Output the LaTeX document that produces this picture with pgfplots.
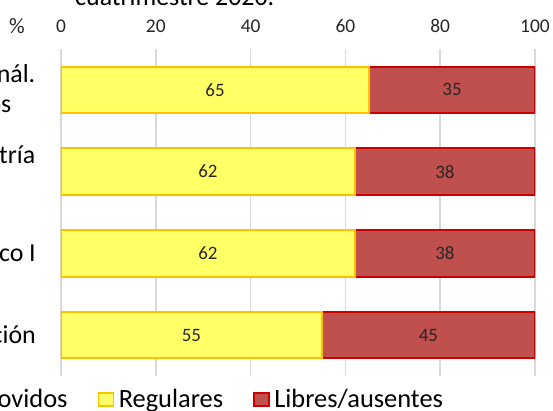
\documentclass[border=0pt]{standalone}
\usepackage{pgfplots}
\usepackage{pgfplotstable}
\pgfplotsset{compat=1.18}
\usepackage{fontspec}
\setmainfont{Carlito}
\definecolor{yfill}{HTML}{FFFF66}
\definecolor{yedge}{HTML}{FFC000}
\definecolor{rfill}{HTML}{C0504D}
\definecolor{redge}{HTML}{CC0000}
\definecolor{gridc}{HTML}{D9D9D9}
\definecolor{txt}{HTML}{262626}
\definecolor{pfill}{HTML}{92D050}

\pgfplotstableread{
idx reg lib
1 65 35
2 62 38
3 62 38
4 55 45
}\data
\pgfplotstablecreatecol[expr={\thisrow{reg}/2}]{regc}\data
\pgfplotstablecreatecol[expr={\thisrow{reg}+\thisrow{lib}/2}]{libc}\data

\pgfplotsset{common/.style={
  scale only axis, width=474bp, height=327bp,
  at={(61bp,35bp)}, anchor=south west,
  xmin=0, xmax=100, ymin=0.5, ymax=4.5, y dir=reverse,
  /pgf/number format/assume math mode=true,
}}
\newcommand{\lbl}[2]{\makebox[0pt][r]{\raisebox{#1}[0pt][0pt]{#2}}}

\begin{document}
\begin{tikzpicture}
\useasboundingbox (0,0) rectangle (553bp,411bp);
\clip (0,0) rectangle (553bp,411bp);
\begin{axis}[common,
  xbar stacked, bar width=46.5bp,
  axis line style={draw=none},
  xtick={0,20,...,100},
  xticklabel pos=top,
  major tick length=0pt,
  xmajorgrids=true,
  grid style={gridc, line width=1.5bp},
  ytick={1,2,3,4},
  yticklabels={{\lbl{7bp}{nál.}\lbl{-23bp}{os\kern24bp}},
               {\lbl{8.6bp}{tría}},
               {co I},{ción}},
  yticklabel style={anchor=east, inner sep=0pt, xshift=-25bp,
    font=\fontsize{26}{30}\selectfont, text=black},
  xticklabel style={anchor=center, yshift=23bp, font=\fontsize{19.5}{23}\selectfont, text=txt},
  every axis plot post/.append style={
    legend image code/.code={\draw[##1,line width=1.75bp] (0bp,-6.5bp) rectangle (15bp,6.5bp);}},
  legend columns=3,
  legend style={at={(axis description cs:0.806,-0.072)}, anchor=east,
    draw=none, fill=none, inner sep=0pt, outer sep=0pt,
    font=\fontsize{26.5}{31}\selectfont, nodes={inner sep=0pt},
    /tikz/every even column/.append style={column sep=30bp},
    /tikz/every odd column/.append style={column sep=4.5bp}},
]
\addlegendimage{fill=pfill, draw=green!50!black}
\addplot[fill=yfill, draw=yedge, line width=2bp] table[x=reg,y=idx]{\data};
\addplot[fill=rfill, draw=redge, line width=2bp] table[x=lib,y=idx]{\data};
\legend{Promovidos, Regulares, Libres/ausentes}
\end{axis}
\begin{axis}[common, hide axis]
\addplot[draw=none, mark=none, point meta=explicit,
  nodes near coords={\pgfmathprintnumber{\pgfplotspointmeta}},
  nodes near coords align={center},
  every node near coord/.append style={anchor=center, font=\fontsize{19}{22}\selectfont, text=txt}]
  table[x=regc,y=idx,meta=reg]{\data};
\addplot[draw=none, mark=none, point meta=explicit,
  nodes near coords={\pgfmathprintnumber{\pgfplotspointmeta}},
  nodes near coords align={center},
  every node near coord/.append style={anchor=center, font=\fontsize{19}{22}\selectfont, text=txt}]
  table[x=libc,y=idx,meta=lib]{\data};
\end{axis}
\node[font=\fontsize{22}{26}\selectfont, text=txt] at (17bp,385bp) {\%};
\node[anchor=base west, inner sep=0pt, font=\fontsize{26}{31}\selectfont, text=black] at (75bp,405bp) {cuatrimestre 2020.};
\end{tikzpicture}
\end{document}
